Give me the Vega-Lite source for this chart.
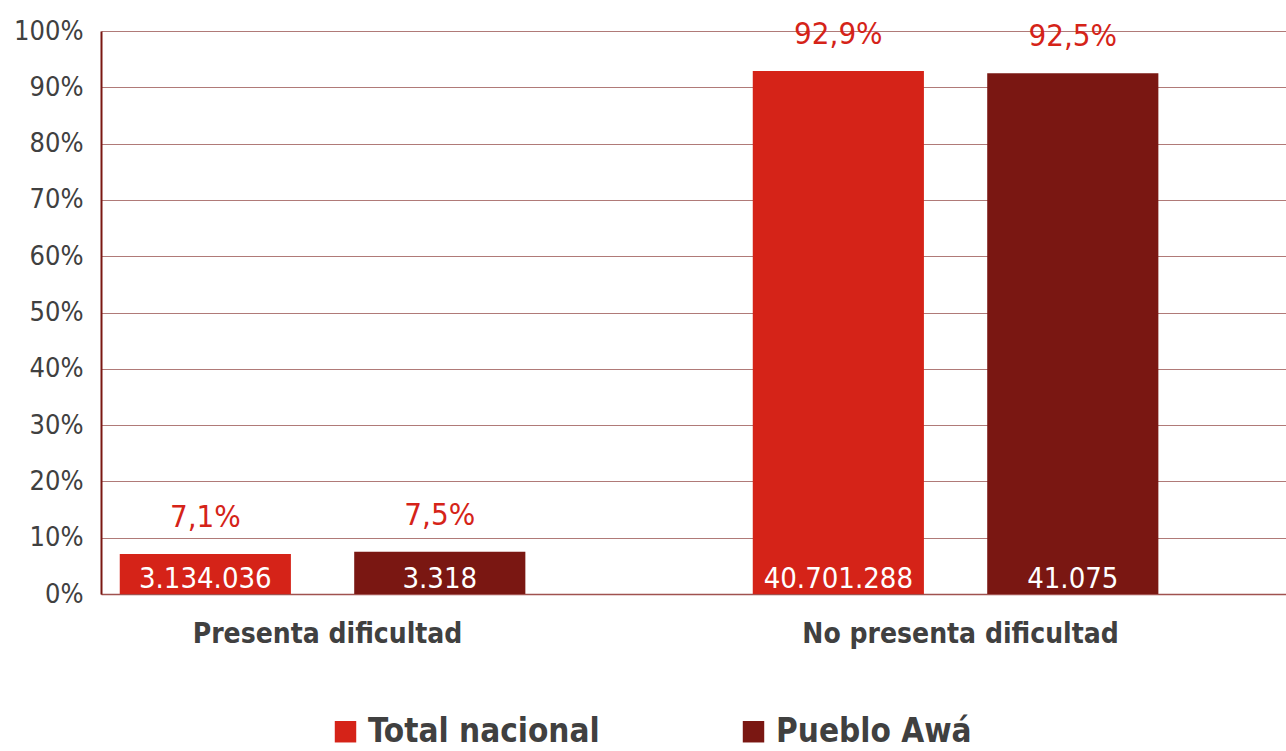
{
  "$schema": "https://vega.github.io/schema/vega-lite/v6.json",
  "autosize": {"type": "none"},
  "width": 1185,
  "height": 563,
  "padding": {"left": 101, "top": 31, "right": 0, "bottom": 157},
  "background": "white",
  "config": {"view": {"stroke": null}, "font": "DejaVu Sans Condensed, Roboto"},
  "data": {
    "values": [
      {"cat": "Presenta dificultad", "grupo": "Total nacional", "pct": 7.1, "pct_label": "7,1%", "n_label": "3.134.036"},
      {"cat": "Presenta dificultad", "grupo": "Pueblo Awá", "pct": 7.5, "pct_label": "7,5%", "n_label": "3.318"},
      {"cat": "No presenta dificultad", "grupo": "Total nacional", "pct": 92.9, "pct_label": "92,9%", "n_label": "40.701.288"},
      {"cat": "No presenta dificultad", "grupo": "Pueblo Awá", "pct": 92.5, "pct_label": "92,5%", "n_label": "41.075"}
    ]
  },
  "encoding": {
    "x": {
      "field": "cat",
      "type": "nominal",
      "sort": ["Presenta dificultad", "No presenta dificultad"],
      "scale": {"paddingInner": 0.3, "paddingOuter": 0.086, "align": 0},
      "axis": {
        "title": null,
        "labelAngle": 0,
        "ticks": false,
        "domain": true,
        "domainColor": "#a0524f",
        "domainWidth": 1.5,
        "labelFontSize": 28,
        "labelFontWeight": "bold",
        "labelColor": "#404040",
        "labelPadding": 26,
        "labelOffset": 5,
        "labelLimit": 0
      }
    },
    "xOffset": {
      "field": "grupo",
      "type": "nominal",
      "sort": ["Total nacional", "Pueblo Awá"],
      "scale": {"paddingInner": 0.27, "paddingOuter": 0.08}
    }
  },
  "layer": [
    {
      "mark": {"type": "bar"},
      "encoding": {
        "y": {
          "field": "pct",
          "type": "quantitative",
          "scale": {"domain": [0, 100]},
          "axis": {
            "title": null,
            "values": [0, 10, 20, 30, 40, 50, 60, 70, 80, 90, 100],
            "labelExpr": "datum.value + '%'",
            "ticks": false,
            "domainColor": "#7a1712",
            "domainWidth": 2,
            "gridColor": "#b07a78",
            "gridWidth": 1,
            "labelFontSize": 27,
            "labelColor": "#404040",
            "labelPadding": 18
          }
        },
        "color": {
          "field": "grupo",
          "type": "nominal",
          "sort": ["Total nacional", "Pueblo Awá"],
          "scale": {"domain": ["Total nacional", "Pueblo Awá"], "range": ["#d52318", "#7a1712"]},
          "legend": {
            "title": null,
            "orient": "none",
            "direction": "horizontal",
            "legendX": 228,
            "legendY": 684,
            "symbolType": "square",
            "symbolSize": 460,
            "symbolStrokeWidth": 0,
            "labelFontSize": 33,
            "labelFontWeight": "bold",
            "labelColor": "#404040",
            "labelOffset": 6,
            "labelLimit": 0,
            "columnPadding": 137
          }
        }
      }
    },
    {
      "mark": {"type": "text", "dy": -27, "baseline": "alphabetic", "fontSize": 31, "color": "#d52318"},
      "encoding": {
        "y": {"field": "pct", "type": "quantitative"},
        "text": {"field": "pct_label"}
      }
    },
    {
      "mark": {"type": "text", "dy": -6, "baseline": "alphabetic", "fontSize": 29, "color": "white"},
      "encoding": {
        "y": {"datum": 0},
        "text": {"field": "n_label"}
      }
    }
  ]
}
